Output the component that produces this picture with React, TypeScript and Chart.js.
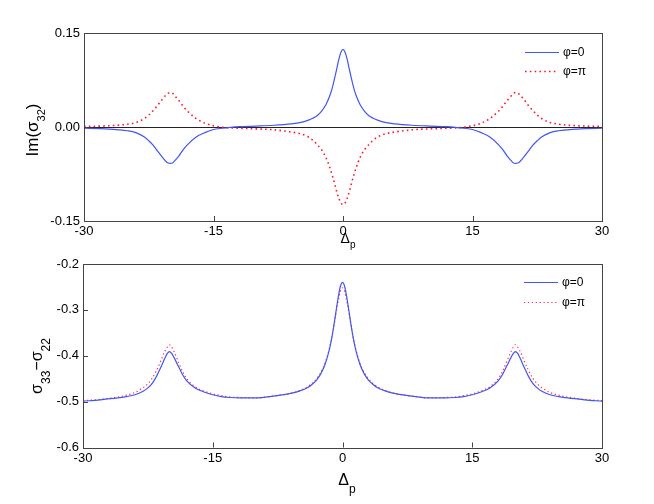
import React, { useEffect, useRef } from "react";
import { Chart, registerables } from "chart.js";

Chart.register(...registerables);

document.body.style.margin = "0";
document.body.style.overflow = "hidden";

// probe detuning Δp
const DETUNING = [
  -30, -28, -26, -25, -24, -23, -22.5, -22, -21.5, -21, -20.5, -20.25, -20, -19.75, -19.5, -19, -18.5, -18, -17, -16,
  -15, -14, -13, -12, -10, -8, -6, -5, -4, -3.5, -3, -2.5, -2, -1.5, -1.25, -1, -0.75, -0.5, -0.25, 0,
  0.25, 0.5, 0.75, 1, 1.25, 1.5, 2, 2.5, 3, 3.5, 4, 5, 6, 8, 10, 12, 13, 14, 15, 16,
  17, 18, 18.5, 19, 19.5, 19.75, 20, 20.25, 20.5, 21, 21.5, 22, 22.5, 23, 24, 25, 26, 28, 30,
];

// Im(σ32)
const TOP_PHI_0 = [
  -0.002, -0.0025, -0.0045, -0.006, -0.009, -0.016, -0.022, -0.029, -0.038, -0.047, -0.055, -0.0575, -0.058, -0.0575, -0.054, -0.046, -0.036, -0.028, -0.016, -0.009,
  -0.004, -0.002, -0.0005, 0.0005, 0.0015, 0.0028, 0.005, 0.007, 0.011, 0.014, 0.018, 0.025, 0.035, 0.051, 0.062, 0.076, 0.091, 0.107, 0.119, 0.124,
  0.119, 0.107, 0.091, 0.076, 0.062, 0.051, 0.035, 0.025, 0.018, 0.014, 0.011, 0.007, 0.005, 0.0028, 0.0015, 0.0005, -0.0005, -0.002, -0.004, -0.009,
  -0.016, -0.028, -0.036, -0.046, -0.054, -0.0575, -0.058, -0.0575, -0.055, -0.047, -0.038, -0.029, -0.022, -0.016, -0.009, -0.006, -0.0045, -0.0025, -0.002,
];
const TOP_PHI_PI = [
  0.001, 0.0015, 0.003, 0.0045, 0.007, 0.0135, 0.019, 0.026, 0.034, 0.043, 0.051, 0.054, 0.055, 0.054, 0.05, 0.042, 0.033, 0.025, 0.0135, 0.006,
  0.002, -0.0003, -0.0015, -0.002, -0.003, -0.0045, -0.008, -0.0105, -0.016, -0.021, -0.028, -0.036, -0.048, -0.066, -0.077, -0.089, -0.102, -0.113, -0.121, -0.124,
  -0.121, -0.113, -0.102, -0.089, -0.077, -0.066, -0.048, -0.036, -0.028, -0.021, -0.016, -0.0105, -0.008, -0.0045, -0.003, -0.002, -0.0015, -0.0003, 0.002, 0.006,
  0.0135, 0.025, 0.033, 0.042, 0.05, 0.054, 0.055, 0.054, 0.051, 0.043, 0.034, 0.026, 0.019, 0.0135, 0.007, 0.0045, 0.003, 0.0015, 0.001,
];

// σ33 − σ22
const BOTTOM_PHI_0 = [
  -0.499, -0.496, -0.492, -0.489, -0.485, -0.477, -0.47, -0.46, -0.445, -0.425, -0.404, -0.395, -0.391, -0.395, -0.403, -0.422, -0.441, -0.455, -0.471, -0.479,
  -0.485, -0.489, -0.491, -0.492, -0.492, -0.488, -0.482, -0.477, -0.469, -0.462, -0.453, -0.439, -0.418, -0.385, -0.362, -0.334, -0.303, -0.273, -0.249, -0.24,
  -0.249, -0.273, -0.303, -0.334, -0.362, -0.385, -0.418, -0.439, -0.453, -0.462, -0.469, -0.477, -0.482, -0.488, -0.492, -0.492, -0.491, -0.489, -0.485, -0.479,
  -0.471, -0.455, -0.441, -0.422, -0.403, -0.395, -0.391, -0.395, -0.404, -0.425, -0.445, -0.46, -0.47, -0.477, -0.485, -0.489, -0.492, -0.496, -0.499,
];
const BOTTOM_PHI_PI = [
  -0.498, -0.495, -0.49, -0.486, -0.48, -0.469, -0.461, -0.449, -0.432, -0.411, -0.389, -0.381, -0.376, -0.381, -0.39, -0.412, -0.434, -0.45, -0.468, -0.477,
  -0.483, -0.487, -0.49, -0.491, -0.492, -0.488, -0.482, -0.476, -0.467, -0.46, -0.45, -0.436, -0.415, -0.383, -0.362, -0.336, -0.308, -0.281, -0.26, -0.252,
  -0.26, -0.281, -0.308, -0.336, -0.362, -0.383, -0.415, -0.436, -0.45, -0.46, -0.467, -0.476, -0.482, -0.488, -0.492, -0.491, -0.49, -0.487, -0.483, -0.477,
  -0.468, -0.45, -0.434, -0.412, -0.39, -0.381, -0.376, -0.381, -0.389, -0.411, -0.432, -0.449, -0.461, -0.469, -0.48, -0.486, -0.49, -0.495, -0.498,
];

const SERIES_LABELS = ["φ=0", "φ=π"];
const X_TICKS = [-30, -15, 0, 15, 30];
const X_TICK_LABELS = ["-30", "-15", "0", "15", "30"];
const TOP_Y_TICKS = [-0.15, 0, 0.15];
const TOP_Y_TICK_LABELS = ["-0.15", "0.00", "0.15"];
const BOTTOM_Y_TICKS = [-0.6, -0.5, -0.4, -0.3, -0.2];
const BOTTOM_Y_TICK_LABELS = ["-0.6", "-0.5", "-0.4", "-0.3", "-0.2"];

const FONT = '"Liberation Sans", Arial, sans-serif';
const BLUE = "#4256f2";

type Part = { text: string; sub?: boolean };

function drawParts(ctx: CanvasRenderingContext2D, parts: Part[], mainSize: number, subSize: number, drop: number) {
  let total = 0;
  const widths = parts.map((p) => {
    ctx.font = `${p.sub ? subSize : mainSize}px ${FONT}`;
    const w = ctx.measureText(p.text).width;
    total += w;
    return w;
  });
  let x = -total / 2;
  parts.forEach((p, i) => {
    ctx.font = `${p.sub ? subSize : mainSize}px ${FONT}`;
    ctx.fillText(p.text, x, p.sub ? drop : 0);
    x += widths[i];
  });
}

function makeDecor(o: {
  zeroLine: boolean;
  xTicks: number[];
  yTicks: number[];
  legendX: number;
  legendY: number[];
  redDash: number[];
  redWidth: number;
  redColor: string;
  yTitle: Part[];
  yTitlePos: [number, number];
  yTitleSizes: [number, number, number];
  xTitlePos: [number, number];
  xTitleSizes: [number, number, number];
}) {
  return {
    id: "decor",
    beforeDatasetsDraw(chart: any) {
      if (!o.zeroLine) return;
      const { ctx, chartArea } = chart;
      const y = Math.round(chart.scales.y.getPixelForValue(0)) + 0.5;
      ctx.save();
      ctx.strokeStyle = "#222";
      ctx.lineWidth = 1;
      ctx.beginPath();
      ctx.moveTo(chartArea.left, y);
      ctx.lineTo(chartArea.right, y);
      ctx.stroke();
      ctx.restore();
    },
    afterDraw(chart: any) {
      const { ctx, chartArea } = chart;
      const { left, right, top, bottom } = chartArea;
      ctx.save();
      ctx.strokeStyle = "#444";
      ctx.lineWidth = 1;
      ctx.strokeRect(Math.round(left) + 0.5, Math.round(top) + 0.5, Math.round(right - left), Math.round(bottom - top));
      ctx.beginPath();
      o.xTicks.forEach((v) => {
        const x = Math.round(chart.scales.x.getPixelForValue(v)) + 0.5;
        ctx.moveTo(x, bottom);
        ctx.lineTo(x, bottom - 5);
      });
      o.yTicks.forEach((v) => {
        const y = Math.round(chart.scales.y.getPixelForValue(v)) + 0.5;
        ctx.moveTo(left, y);
        ctx.lineTo(left + 5, y);
      });
      ctx.stroke();

      // legend
      const lx = o.legendX;
      ctx.lineWidth = 1.2;
      ctx.strokeStyle = BLUE;
      ctx.beginPath();
      ctx.moveTo(lx, o.legendY[0] + 0.5);
      ctx.lineTo(lx + 34, o.legendY[0] + 0.5);
      ctx.stroke();
      ctx.strokeStyle = o.redColor;
      ctx.lineWidth = o.redWidth;
      ctx.setLineDash(o.redDash);
      ctx.beginPath();
      ctx.moveTo(lx, o.legendY[1] + 0.5);
      ctx.lineTo(lx + 33, o.legendY[1] + 0.5);
      ctx.stroke();
      ctx.setLineDash([]);
      ctx.fillStyle = "#000";
      ctx.font = `12px ${FONT}`;
      ctx.textBaseline = "middle";
      ctx.textAlign = "left";
      ctx.fillText(SERIES_LABELS[0], lx + 38, o.legendY[0] + 1);
      ctx.fillText(SERIES_LABELS[1], lx + 38, o.legendY[1] + 1);

      // y title (rotated)
      ctx.textBaseline = "alphabetic";
      ctx.save();
      ctx.translate(o.yTitlePos[0], o.yTitlePos[1]);
      ctx.rotate(-Math.PI / 2);
      drawParts(ctx, o.yTitle, o.yTitleSizes[0], o.yTitleSizes[1], o.yTitleSizes[2]);
      ctx.restore();

      // x title
      ctx.save();
      ctx.translate(o.xTitlePos[0], o.xTitlePos[1]);
      drawParts(ctx, [{ text: "Δ" }, { text: "p", sub: true }], o.xTitleSizes[0], o.xTitleSizes[1], o.xTitleSizes[2]);
      ctx.restore();
      ctx.restore();
    },
  };
}

function buildConfig(
  phi0: number[],
  phiPi: number[],
  yTicks: number[],
  yLabels: string[],
  layout: { top: number; right: number; yWidth: number; xHeight: number },
  red: { dash: number[]; width: number; color: string },
  decor: any
): any {
  const pts = (ys: number[]) => DETUNING.map((x, i) => ({ x, y: ys[i] }));
  return {
    type: "line",
    data: {
      datasets: [
        {
          label: SERIES_LABELS[0],
          data: pts(phi0),
          borderColor: BLUE,
          borderWidth: 1.2,
          pointRadius: 0,
          cubicInterpolationMode: "monotone",
          fill: false,
        },
        {
          label: SERIES_LABELS[1],
          data: pts(phiPi),
          borderColor: red.color,
          borderWidth: red.width,
          borderDash: red.dash,
          pointRadius: 0,
          cubicInterpolationMode: "monotone",
          fill: false,
        },
      ],
    },
    options: {
      animation: false,
      responsive: false,
      events: [],
      layout: { padding: { left: 0, right: layout.right, top: layout.top, bottom: 0 } },
      plugins: { legend: { display: false }, tooltip: { enabled: false } },
      scales: {
        x: {
          type: "linear",
          min: -30,
          max: 30,
          afterBuildTicks: (s: any) => {
            s.ticks = X_TICKS.map((value) => ({ value }));
          },
          afterFit: (s: any) => {
            s.height = layout.xHeight;
          },
          grid: { display: false, drawTicks: false },
          border: { display: false },
          ticks: {
            autoSkip: false,
            maxRotation: 0,
            padding: 3,
            color: "#000",
            font: { family: FONT, size: 13 },
            callback: (_v: any, i: number) => X_TICK_LABELS[i],
          },
        },
        y: {
          type: "linear",
          min: yTicks[0],
          max: yTicks[yTicks.length - 1],
          afterBuildTicks: (s: any) => {
            s.ticks = yTicks.map((value) => ({ value }));
          },
          afterFit: (s: any) => {
            s.width = layout.yWidth;
          },
          grid: { display: false, drawTicks: false },
          border: { display: false },
          ticks: {
            autoSkip: false,
            padding: 4,
            color: "#000",
            font: { family: FONT, size: 13 },
            callback: (_v: any, i: number) => yLabels[i],
          },
        },
      },
    },
    plugins: [decor],
  };
}

export default function App() {
  const topRef = useRef<HTMLCanvasElement>(null);
  const bottomRef = useRef<HTMLCanvasElement>(null);

  useEffect(() => {
    const topRed = { dash: [1.6, 3.2], width: 1.6, color: "#ff1a2a" };
    const bottomRed = { dash: [1.3, 2.6], width: 1.2, color: "#ff3050" };
    const top = new Chart(
      topRef.current as HTMLCanvasElement,
      buildConfig(
        TOP_PHI_0,
        TOP_PHI_PI,
        TOP_Y_TICKS,
        TOP_Y_TICK_LABELS,
        { top: 33, right: 52, yWidth: 84, xHeight: 31 },
        topRed,
        makeDecor({
          zeroLine: true,
          xTicks: X_TICKS,
          yTicks: TOP_Y_TICKS,
          legendX: 525,
          legendY: [52, 71],
          redDash: topRed.dash,
          redWidth: topRed.width,
          redColor: topRed.color,
          yTitle: [{ text: "Im(σ" }, { text: "32", sub: true }, { text: ")" }],
          yTitlePos: [38, 130],
          yTitleSizes: [17, 11, 7],
          xTitlePos: [348, 243],
          xTitleSizes: [14, 10, 5],
        })
      )
    );
    const bottom = new Chart(
      bottomRef.current as HTMLCanvasElement,
      buildConfig(
        BOTTOM_PHI_0,
        BOTTOM_PHI_PI,
        BOTTOM_Y_TICKS,
        BOTTOM_Y_TICK_LABELS,
        { top: 16, right: 52, yWidth: 83, xHeight: 56.5 },
        bottomRed,
        makeDecor({
          zeroLine: false,
          xTicks: X_TICKS,
          yTicks: BOTTOM_Y_TICKS,
          legendX: 524,
          legendY: [34, 54],
          redDash: bottomRed.dash,
          redWidth: bottomRed.width,
          redColor: bottomRed.color,
          yTitle: [{ text: "σ" }, { text: "33", sub: true }, { text: "−σ" }, { text: "22", sub: true }],
          yTitlePos: [42, 118],
          yTitleSizes: [16, 12, 8],
          xTitlePos: [347, 237],
          xTitleSizes: [16, 12, 8],
        })
      )
    );
    return () => {
      top.destroy();
      bottom.destroy();
    };
  }, []);

  return (
    <div style={{ position: "relative", width: 654, height: 504, background: "#fff", overflow: "hidden" }}>
      <canvas ref={topRef} width={654} height={252} style={{ position: "absolute", left: 0, top: 0, display: "block" }} />
      <canvas ref={bottomRef} width={654} height={256} style={{ position: "absolute", left: 0, top: 248, display: "block" }} />
    </div>
  );
}
